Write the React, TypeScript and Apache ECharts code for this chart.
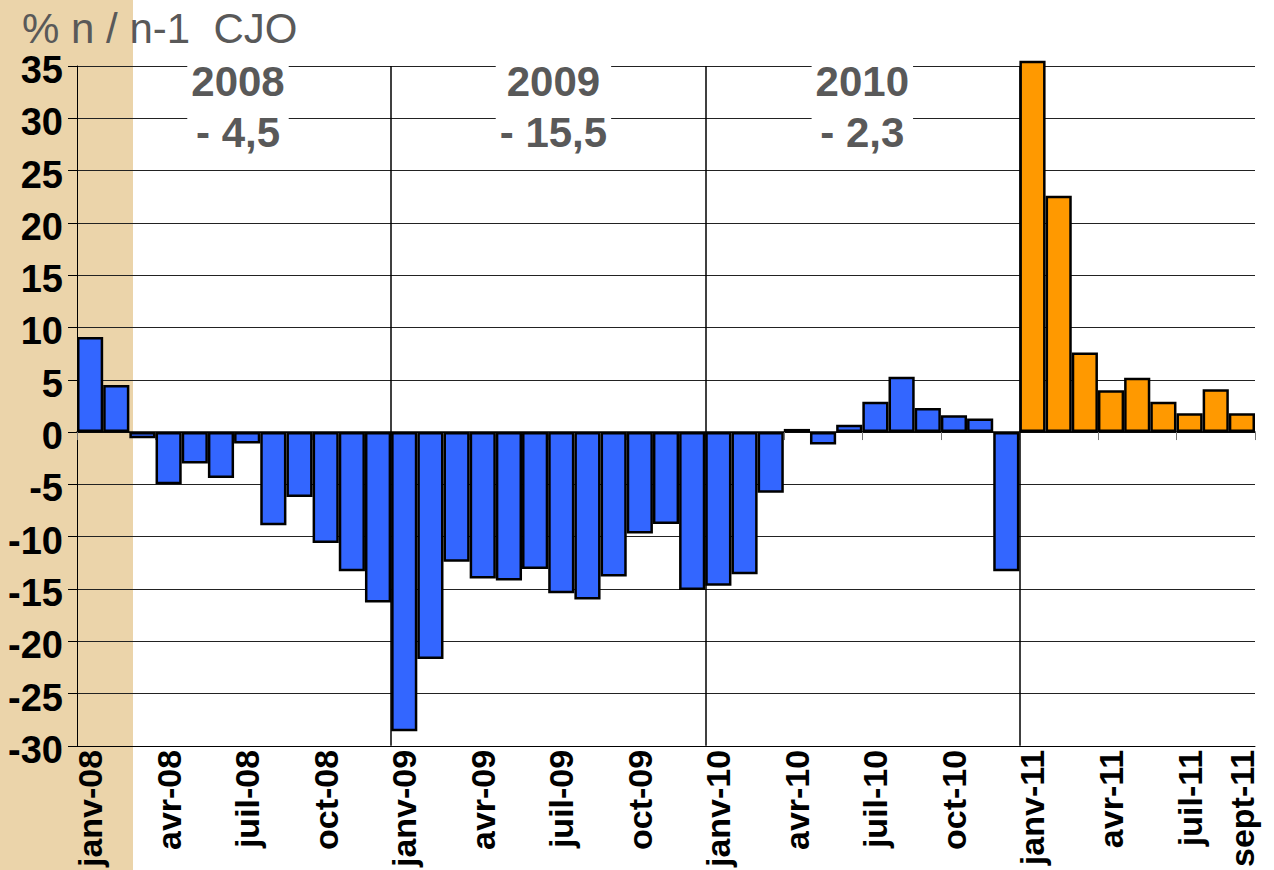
import React, { useEffect, useRef } from "react";
import * as echarts from "echarts";

const categories: string[] = [
  "janv-08", "févr-08", "mars-08", "avr-08", "mai-08", "juin-08", "juil-08", "août-08", "sept-08", "oct-08", "nov-08", "déc-08",
  "janv-09", "févr-09", "mars-09", "avr-09", "mai-09", "juin-09", "juil-09", "août-09", "sept-09", "oct-09", "nov-09", "déc-09",
  "janv-10", "févr-10", "mars-10", "avr-10", "mai-10", "juin-10", "juil-10", "août-10", "sept-10", "oct-10", "nov-10", "déc-10",
  "janv-11", "févr-11", "mars-11", "avr-11", "mai-11", "juin-11", "juil-11", "août-11", "sept-11",
];

const values2008 = [9.1, 4.5, -0.6, -5.0, -3.0, -4.4, -1.1, -8.9, -6.2, -10.6, -13.3, -16.3];
const values2009 = [-28.6, -21.7, -12.4, -14.0, -14.2, -13.1, -15.4, -16.0, -13.8, -9.7, -8.8, -15.1];
const values2010 = [-14.7, -13.6, -5.8, 0.3, -1.2, 0.7, 2.9, 5.3, 2.3, 1.6, 1.3, -13.3];
const values2011 = [35.5, 22.6, 7.6, 4.0, 5.2, 2.9, 1.8, 4.1, 1.8];

const yearNames = ["2008", "2009", "2010"];
const yearTotals = ["- 4,5", "- 15,5", "- 2,3"];
const yearLabelX = [6.15, 18.2, 30.0];
const yearLabelY = 31.1;
const yearSeparators = [12, 24, 36];

const yTicks = { min: -30, max: 35, interval: 5 };

const BLUE = "#3366FF";
const ORANGE = "#FF9900";
const TAN = "#EBD4AA";
const FONT = "Arial, 'Liberation Sans', sans-serif";

export default function App() {
  const ref = useRef<HTMLDivElement>(null);

  useEffect(() => {
    document.body.style.margin = "0";
    if (!ref.current) return;
    const chart = echarts.init(ref.current, undefined, { renderer: "svg" });

    const pastValues = [...values2008, ...values2009, ...values2010];
    const allValues = [...pastValues, ...values2011];
    const barData = allValues.map((v, i) => ({
      value: v,
      itemStyle: { color: i < pastValues.length ? BLUE : ORANGE },
    }));

    const option: any = {
      animation: false,
      backgroundColor: "transparent",
      title: {
        text: "% n / n-1  CJO",
        left: 22,
        top: 12,
        padding: 0,
        textStyle: { fontFamily: FONT, fontSize: 42, lineHeight: 32, fontWeight: "normal", color: "#595959" },
      },
      graphic: {
        elements: [
          {
            type: "rect",
            z: -100,
            zlevel: 0,
            silent: true,
            shape: { x: 0, y: 0, width: 133, height: 870 },
            style: { fill: TAN },
          },
        ],
      },
      grid: { left: 77, right: 19, top: 66, bottom: 120, containLabel: false },
      xAxis: [
        {
          type: "category",
          data: categories,
          position: "bottom",
          boundaryGap: true,
          axisLine: { show: true, onZero: false, lineStyle: { color: "#000", width: 1 } },
          axisTick: { show: false },
          axisLabel: {
            interval: (index: number) => index % 3 === 0 || index === categories.length - 1,
            rotate: 90,
            margin: 4,
            padding: [12, 0, 0, 0],
            fontFamily: FONT,
            fontSize: 34,
            fontWeight: "bold",
            color: "#000",
          },
          splitLine: { show: false },
        },
        {
          type: "category",
          data: categories,
          position: "top",
          boundaryGap: true,
          axisLine: { show: true, onZero: true, lineStyle: { color: "#000", width: 1.5 } },
          axisTick: { show: true, inside: true, interval: 2, length: 8, lineStyle: { color: "#777", width: 1 } },
          axisLabel: { show: false },
          splitLine: { show: false },
        },
        {
          type: "value",
          min: 0,
          max: categories.length,
          show: false,
          axisLine: { onZero: false },
          splitLine: { show: false },
        },
      ],
      yAxis: {
        type: "value",
        min: yTicks.min,
        max: yTicks.max,
        interval: yTicks.interval,
        axisLine: { show: true, onZero: false, lineStyle: { color: "#000", width: 1 } },
        axisTick: { show: true, length: 9, lineStyle: { color: "#000", width: 1 } },
        axisLabel: {
          margin: 14,
          verticalAlign: "top",
          lineHeight: 8,
          fontFamily: FONT,
          fontSize: 38,
          fontWeight: "bold",
          color: "#000",
        },
        splitLine: { show: true, lineStyle: { color: "#222", width: 1 } },
      },
      series: [
        {
          type: "bar",
          xAxisIndex: 0,
          yAxisIndex: 0,
          data: barData,
          barCategoryGap: "0%",
          clip: false,
          itemStyle: { borderColor: "#000", borderWidth: 2.5 },
          z: 3,
        },
        {
          type: "line",
          xAxisIndex: 2,
          yAxisIndex: 0,
          data: [],
          z: 4,
          markLine: {
            silent: true,
            symbol: ["none", "none"],
            label: { show: false },
            lineStyle: { color: "#000", width: 1.5, type: "solid" },
            data: yearSeparators.map((x) => ({ xAxis: x })),
          },
          markPoint: {
            silent: true,
            symbol: "rect",
            symbolSize: 1,
            itemStyle: { color: "rgba(0,0,0,0)" },
            label: {
              show: true,
              position: "inside",
              fontFamily: FONT,
              fontSize: 42,
              fontWeight: "bold",
              color: "#595959",
              lineHeight: 51,
              align: "center",
              backgroundColor: "#fff",
              padding: [2, 4],
            },
            data: yearNames.map((name, i) => ({
              coord: [yearLabelX[i], yearLabelY],
              label: { formatter: `${name}\n${yearTotals[i]}` },
            })),
          },
        },
      ],
    };

    chart.setOption(option);
    return () => chart.dispose();
  }, []);

  return (
    <div
      ref={ref}
      style={{ position: "absolute", left: 0, top: 0, width: 1274, height: 870 }}
    />
  );
}
